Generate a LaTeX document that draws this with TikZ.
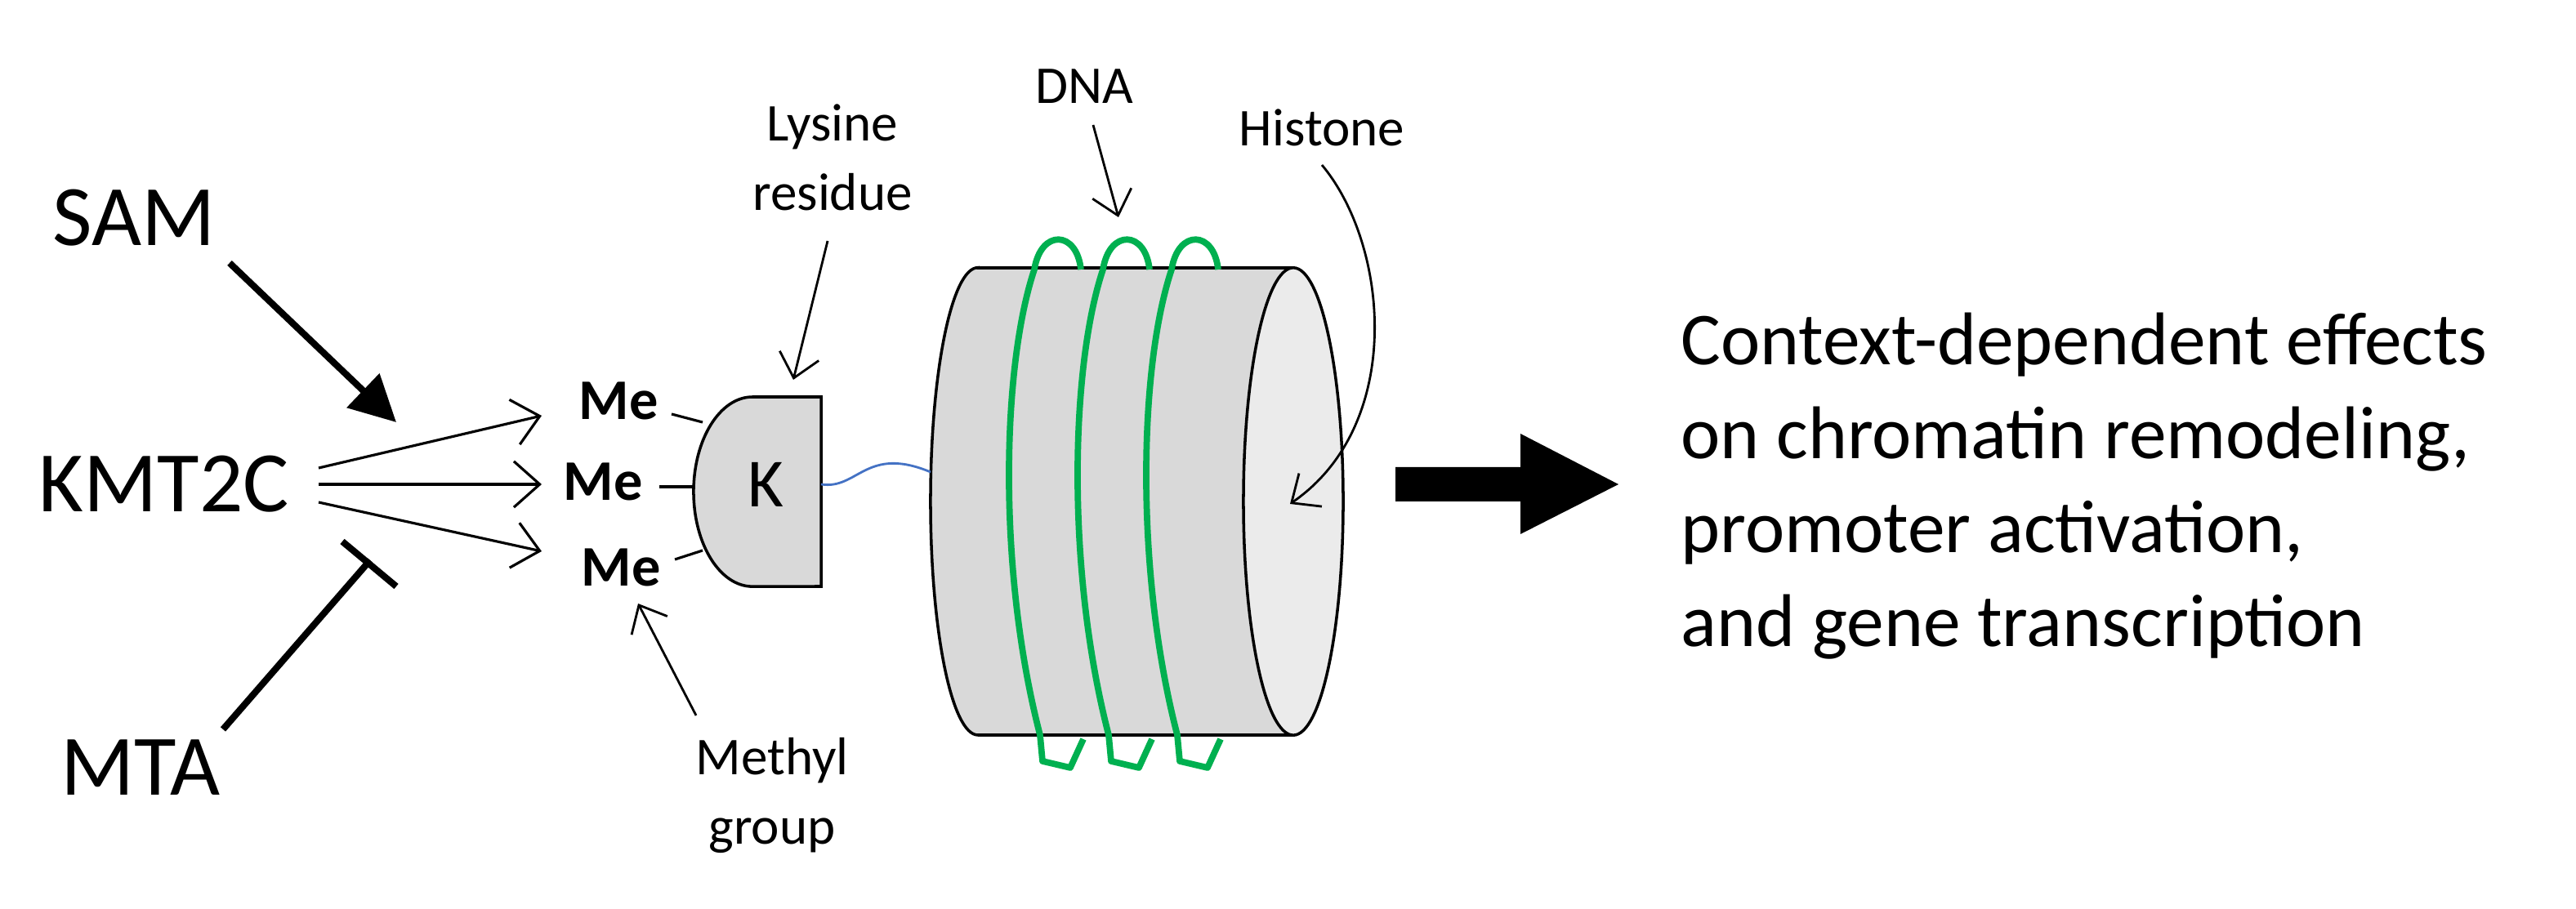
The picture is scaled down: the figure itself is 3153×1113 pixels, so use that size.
\documentclass[tikz,border=0pt]{standalone}
\usepackage{fontspec}
\setmainfont{Carlito}
\usetikzlibrary{arrows.meta}

\definecolor{histgrey}{gray}{0.85}
\definecolor{facegrey}{gray}{0.92}
\definecolor{dnagreen}{RGB}{0,176,80}
\definecolor{wireblue}{RGB}{68,114,196}

\begin{document}
\begin{tikzpicture}[
x=0.01cm, y=-0.01cm,
bigtext/.style={font=\fontsize{30}{36}\selectfont, inner sep=0pt},
metext/.style={font=\fontsize{20}{24}\selectfont\bfseries, inner sep=0pt},
note/.style={font=\fontsize{18.5}{24}\selectfont, inner sep=0pt, align=center},
thinarrow/.style={line width=0.9pt, -{Straight Barb[length=9pt,width=16pt]}},
notearrow/.style={line width=0.8pt, -{Straight Barb[length=8pt,width=14pt]}}
]
\useasboundingbox (0,0) rectangle (3153,1113);

% actors on the left
\node[bigtext] (sam) at (164,267) {SAM};
\node[bigtext] (kmt) at (201,593) {KMT2C};
\node[bigtext] (mta) at (172,940) {MTA};
\coordinate (samend) at (485,517);
\coordinate (mtaend) at (453,686);
\draw[line width=2.3pt, -{Triangle[length=16pt,width=16pt]}] (281,322) -- (samend);
\draw[line width=2.3pt] (273,893) -- (mtaend);
\draw[line width=2.3pt] (419,663) -- (485,718);

% methyl groups
\node[metext] (me1) at (757,491) {Me};
\node[metext] (me2) at (738,590) {Me};
\node[metext] (me3) at (760,695) {Me};
\coordinate (in1) at (663,509);
\coordinate (in2) at (663,593);
\coordinate (in3) at (663,675);
\draw[thinarrow] (390,573) -- (in1);
\draw[thinarrow] (390,593) -- (in2);
\draw[thinarrow] (390,615) -- (in3);

% lysine residue
\draw[line width=1pt, fill=histgrey] (1005,486) -- (921,486)
  arc[start angle=90, end angle=270, x radius=0.72cm, y radius=1.16cm]
  -- (1005,718) -- cycle;
\node[font=\fontsize{24}{28}\selectfont, inner sep=0pt] (lys) at (937,593) {K};
\draw[line width=0.9pt] (822,507) -- (860,517);
\draw[line width=0.9pt] (807,596) -- (849,596);
\draw[line width=0.9pt] (826,685) -- (860,674);

% histone cylinder
\draw[line width=1pt, fill=histgrey] (1197,328) -- (1583,328) -- (1583,900) -- (1197,900)
  arc[start angle=270, end angle=90, x radius=0.58cm, y radius=2.86cm] -- cycle;
\draw[line width=1pt, fill=facegrey] (1583,614) ellipse[x radius=0.61cm, y radius=2.86cm];
\coordinate (histface) at (1579,617);
\draw[wireblue, line width=0.8pt] (1005,593) .. controls (1050,600) and (1060,545) .. (1139,578);

% DNA wraps
\foreach \i in {0,1,2}{
  \pgfmathsetmacro{\xo}{1266+84*\i}
  \draw[dnagreen, line width=2.2pt, line join=round]
    (\xo+57,330) .. controls (\xo+52,282) and (\xo+8,280) .. (\xo,330)
    .. controls (\xo-40,450) and (\xo-45,700) .. (\xo+7,900)
    -- (\xo+10,932) -- (\xo+44,940) -- (\xo+60,905);
}

% labels
\node[note] (lysnote) at (1019,193) {Lysine\\residue};
\node[note] (dna) at (1327,106) {DNA};
\node[note] (hist) at (1618,156) {Histone};
\node[note] (methyl) at (945,974) {Methyl\\group};
\coordinate (metail) at (781,739);
\draw[notearrow] (1013,295) -- (971,465);
\draw[notearrow] (1338,153) -- (1369,266);
\draw[notearrow] (1618,202) .. controls (1700,300) and (1720,520) .. (histface);
\draw[notearrow] (852,876) -- (metail);

% outcome
\fill (1708,572) -- (1861,572) -- (1861,531) -- (1981,593) -- (1861,654) -- (1861,614) -- (1708,614) -- cycle;
\node[font=\fontsize{26}{32.7}\selectfont, inner sep=0pt, anchor=north west, align=left]
  (effects) at (2057,382) {Context-dependent effects\\on chromatin remodeling,\\promoter activation,\\and gene transcription};
\end{tikzpicture}
\end{document}
